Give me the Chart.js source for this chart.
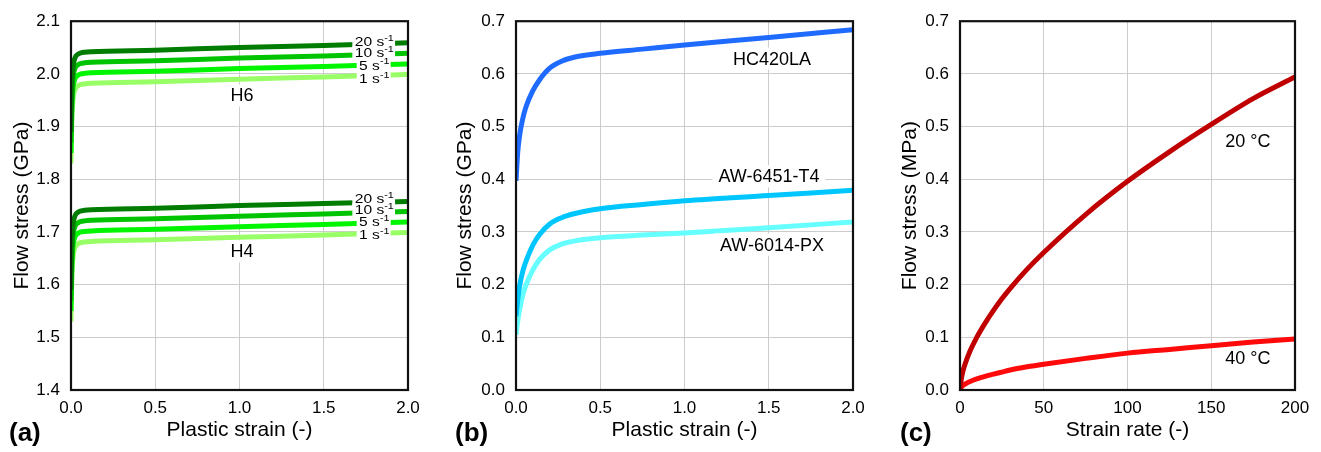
<!DOCTYPE html>
<html>
<head>
<meta charset="utf-8">
<script src="https://cdn.jsdelivr.net/npm/chart.js@4"></script>
<style>
  html, body { margin: 0; padding: 0; background: #fff; }
  body { width: 1321px; height: 452px; position: relative; overflow: hidden; }
  canvas { position: absolute; top: 0; }
</style>
</head>
<body>
<canvas id="chartA" width="440" height="452" style="left:0"></canvas>
<canvas id="chartB" width="440" height="452" style="left:440px"></canvas>
<canvas id="chartC" width="441" height="452" style="left:880px"></canvas>
<script>
// ---- Panel (a): H6 / H4 at four strain rates ----
const strainA = [0, 0.004, 0.008, 0.014, 0.022, 0.032, 0.045, 0.06, 0.08, 0.12, 0.5, 1.0, 1.5, 2.0];
const h6Rate20 = [1.89, 1.96, 1.995, 2.018, 2.029, 2.035, 2.038, 2.040, 2.041, 2.042, 2.045, 2.050, 2.054, 2.059];
const h6Rate10 = [1.87, 1.94, 1.975, 1.998, 2.009, 2.015, 2.018, 2.020, 2.021, 2.022, 2.025, 2.030, 2.034, 2.039];
const h6Rate5  = [1.85, 1.92, 1.955, 1.978, 1.989, 1.995, 1.998, 2.000, 2.001, 2.002, 2.005, 2.010, 2.014, 2.019];
const h6Rate1  = [1.83, 1.90, 1.935, 1.958, 1.969, 1.975, 1.978, 1.980, 1.981, 1.982, 1.985, 1.990, 1.994, 1.999];
const h4Rate20 = [1.59, 1.66, 1.695, 1.718, 1.729, 1.735, 1.738, 1.740, 1.741, 1.742, 1.745, 1.750, 1.754, 1.758];
const h4Rate10 = [1.57, 1.64, 1.675, 1.698, 1.709, 1.715, 1.718, 1.720, 1.721, 1.722, 1.725, 1.730, 1.734, 1.739];
const h4Rate5  = [1.55, 1.62, 1.655, 1.678, 1.689, 1.695, 1.698, 1.700, 1.701, 1.702, 1.705, 1.710, 1.714, 1.719];
const h4Rate1  = [1.53, 1.60, 1.635, 1.658, 1.669, 1.675, 1.678, 1.680, 1.681, 1.682, 1.685, 1.690, 1.694, 1.699];
const rateNames = ['20', '10', '5', '1'];
const rateColors = ['#007d00', '#00c400', '#00f500', '#99ff66'];

// ---- Panel (b): three sheet materials ----
const strainB = [0, 0.01, 0.02, 0.04, 0.06, 0.1, 0.14, 0.2, 0.27, 0.35, 0.5, 0.75, 1.0, 1.5, 2.0];
const hc420la  = [0.397, 0.45, 0.48, 0.515, 0.538, 0.568, 0.589, 0.611, 0.624, 0.632, 0.639, 0.647, 0.655, 0.669, 0.684];
const aw6451t4 = [0.14, 0.17, 0.195, 0.225, 0.245, 0.275, 0.295, 0.315, 0.327, 0.335, 0.344, 0.352, 0.359, 0.369, 0.379];
const aw6014px = [0.105, 0.13, 0.15, 0.18, 0.2, 0.228, 0.248, 0.266, 0.277, 0.283, 0.289, 0.294, 0.298, 0.308, 0.319];
const materialNames = ['HC420LA', 'AW-6451-T4', 'AW-6014-PX'];
const materialColors = ['#1f6bff', '#00c6ff', '#66ffff'];

// ---- Panel (c): two temperatures ----
const rateC = [0, 1, 3, 6, 10, 15, 20, 25, 30, 40, 50, 75, 100, 125, 150, 175, 200];
const temp20 = [0, 0.025, 0.049, 0.074, 0.100, 0.127, 0.151, 0.173, 0.193, 0.229, 0.261, 0.333, 0.396, 0.452, 0.504, 0.553, 0.594];
const temp40 = [0, 0.006, 0.011, 0.016, 0.021, 0.026, 0.030, 0.034, 0.038, 0.044, 0.049, 0.060, 0.070, 0.077, 0.084, 0.091, 0.097];
const tempNames = ['20 °C', '40 °C'];
const tempColors = ['#c00000', '#ff0a0a'];

const FONT = '"Liberation Sans", Arial, sans-serif';

const pts = (xs, ys) => xs.map((x, i) => ({ x, y: ys[i] }));

function lineSet(xs, ys, color) {
  return {
    data: pts(xs, ys),
    borderColor: color,
    borderWidth: 5,
    pointRadius: 0,
    cubicInterpolationMode: 'monotone',
    fill: false
  };
}

// white-backed text labels, frame and panel letter
const decorPlugin = {
  id: 'decor',
  afterDatasetsDraw(chart, args, opts) {
    const ctx = chart.ctx;
    const xs = chart.scales.x, ys = chart.scales.y;
    ctx.save();
    ctx.textBaseline = 'middle';
    (opts.labels || []).forEach(l => {
      const px = xs.getPixelForValue(l.x);
      const py = ys.getPixelForValue(l.y);
      if (l.sup) {
        // rate label with superscript, drawn a bit wide like the source
        const sx = 1.2;
        ctx.font = '13px ' + FONT;
        const wm = ctx.measureText(l.text).width;
        ctx.font = '9px ' + FONT;
        const ws = ctx.measureText(l.sup).width;
        const w = (wm + ws) * sx;
        ctx.save();
        ctx.translate(px - w / 2, py);
        ctx.scale(sx, 1);
        ctx.fillStyle = '#fff';
        ctx.fillRect(-2, -6.5, wm + ws + 3, 13);
        ctx.fillStyle = '#000';
        ctx.textAlign = 'left';
        ctx.font = '13px ' + FONT;
        ctx.fillText(l.text, 0, 0.5);
        ctx.font = '9px ' + FONT;
        ctx.fillText(l.sup, wm, -3.5);
        ctx.restore();
      } else {
        ctx.font = '18px ' + FONT;
        const w = ctx.measureText(l.text).width;
        if (l.box) {
          ctx.fillStyle = '#fff';
          ctx.fillRect(px - w / 2 - 6, py - 11, w + 12, 22);
        }
        ctx.fillStyle = '#000';
        ctx.textAlign = 'center';
        ctx.fillText(l.text, px, py + 1);
      }
    });
    ctx.restore();
  },
  afterDraw(chart, args, opts) {
    const ctx = chart.ctx;
    const a = chart.chartArea;
    ctx.save();
    ctx.strokeStyle = '#111';
    ctx.lineWidth = 2.2;
    ctx.strokeRect(a.left, a.top, a.right - a.left, a.bottom - a.top);
    ctx.fillStyle = '#000';
    ctx.font = 'bold 26px ' + FONT;
    ctx.textAlign = 'left';
    ctx.textBaseline = 'middle';
    ctx.fillText(opts.letter, opts.letterX, 434);
    ctx.restore();
  }
};

function makeChart(id, cfg) {
  const tickFont = { family: FONT, size: 17 };
  const titleFont = { family: FONT, size: 21 };
  return new Chart(document.getElementById(id), {
    type: 'line',
    data: { datasets: cfg.datasets },
    plugins: [decorPlugin],
    options: {
      responsive: false,
      animation: false,
      events: [],
      layout: { padding: { left: cfg.padL, top: 17, right: cfg.padR, bottom: 0 } },
      plugins: {
        legend: { display: false },
        tooltip: { enabled: false },
        decor: { labels: cfg.labels, letter: cfg.letter, letterX: cfg.letterX }
      },
      scales: {
        x: {
          type: 'linear',
          min: cfg.xMin, max: cfg.xMax,
          ticks: { stepSize: cfg.xStep, color: '#000', font: tickFont, padding: 8,
                   callback: cfg.xFmt },
          grid: { color: '#cccccc', lineWidth: 1, drawTicks: false },
          border: { display: false },
          title: { display: true, text: cfg.xTitle, color: '#000', font: titleFont,
                   padding: { top: 0, bottom: 9 } },
          afterFit: (s) => { s.height = 62; }
        },
        y: {
          type: 'linear',
          min: cfg.yMin, max: cfg.yMax,
          ticks: { stepSize: 0.1, color: '#000', font: tickFont, padding: 11,
                   callback: (v) => Number(v).toFixed(1) },
          grid: { color: '#cccccc', lineWidth: 1, drawTicks: false },
          border: { display: false },
          title: { display: true, text: cfg.yTitle, color: '#000', font: titleFont,
                   padding: { top: 0, bottom: 0 } },
          afterFit: (s) => { s.width = cfg.plotLeft - cfg.padL; }
        }
      }
    }
  });
}

// ---- (a) ----
const h6Series = [h6Rate20, h6Rate10, h6Rate5, h6Rate1];
const h4Series = [h4Rate20, h4Rate10, h4Rate5, h4Rate1];
const rateLabelY6 = [2.0606, 2.040, 2.016, 1.991];
const rateLabelY4 = [1.762, 1.742, 1.719, 1.695];
const labelsA = [];
rateNames.forEach((r, i) => {
  labelsA.push({ text: r + ' s', sup: '-1', x: 1.80, y: rateLabelY6[i] });
  labelsA.push({ text: r + ' s', sup: '-1', x: 1.80, y: rateLabelY4[i] });
});
labelsA.push({ text: 'H6', x: 1.015, y: 1.959, box: true });
labelsA.push({ text: 'H4', x: 1.015, y: 1.663, box: true });

makeChart('chartA', {
  datasets: [
    ...h6Series.map((s, i) => lineSet(strainA, s, rateColors[i])),
    ...h4Series.map((s, i) => lineSet(strainA, s, rateColors[i]))
  ],
  labels: labelsA,
  padL: 10, padR: 32, plotLeft: 71,
  xMin: 0, xMax: 2, xStep: 0.5, xFmt: (v) => Number(v).toFixed(1),
  yMin: 1.4, yMax: 2.1,
  xTitle: 'Plastic strain (-)', yTitle: 'Flow stress (GPa)',
  letter: '(a)', letterX: 9
});

// ---- (b) ----
makeChart('chartB', {
  datasets: [hc420la, aw6451t4, aw6014px].map((s, i) => lineSet(strainB, s, materialColors[i])),
  labels: [
    { text: materialNames[0], x: 1.519, y: 0.629, box: true },
    { text: materialNames[1], x: 1.501, y: 0.4055, box: true },
    { text: materialNames[2], x: 1.519, y: 0.276, box: true }
  ],
  padL: 13, padR: 27, plotLeft: 76,
  xMin: 0, xMax: 2, xStep: 0.5, xFmt: (v) => Number(v).toFixed(1),
  yMin: 0, yMax: 0.7,
  xTitle: 'Plastic strain (-)', yTitle: 'Flow stress (GPa)',
  letter: '(b)', letterX: 15
});

// ---- (c) ----
makeChart('chartC', {
  datasets: [temp20, temp40].map((s, i) => lineSet(rateC, s, tempColors[i])),
  labels: [
    { text: tempNames[0], x: 171.9, y: 0.473 },
    { text: tempNames[1], x: 171.9, y: 0.060 }
  ],
  padL: 18, padR: 26, plotLeft: 80,
  xMin: 0, xMax: 200, xStep: 50, xFmt: (v) => String(v),
  yMin: 0, yMax: 0.7,
  xTitle: 'Strain rate (-)', yTitle: 'Flow stress (MPa)',
  letter: '(c)', letterX: 20
});
</script>
</body>
</html>
